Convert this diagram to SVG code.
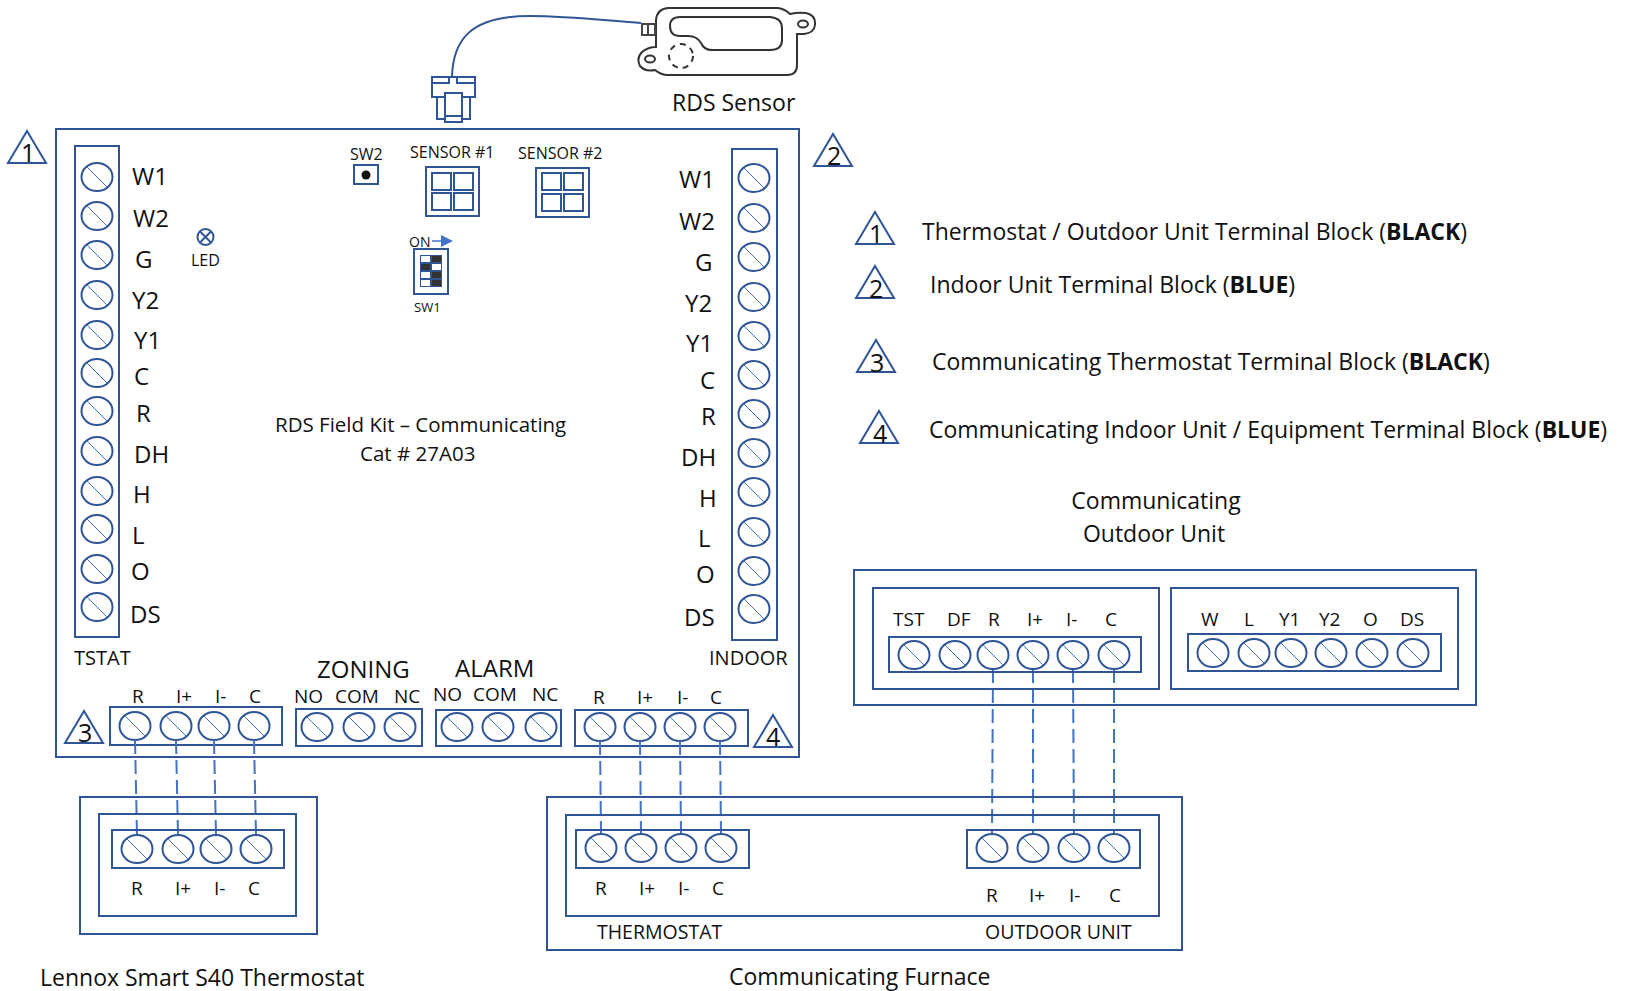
<svg xmlns="http://www.w3.org/2000/svg" width="1645" height="991" viewBox="0 0 1645 991">
<style>
.b{fill:none;stroke:#2f5597;stroke-width:2}
.f{fill:#fff;stroke:#2f5597;stroke-width:2}
.t{fill:none;stroke:#2f5597;stroke-width:2}
text{font-family:"Open Sans","Noto Sans","Liberation Sans",sans-serif;fill:#111}
.l{font-size:24px}
.m{font-size:19px}
.s{font-size:16px}
.g{font-size:23px}
.d{fill:none;stroke:#4472c4;stroke-width:2;stroke-dasharray:14 6}
.k{fill:none;stroke:#333;stroke-width:2}
</style>
<defs>
<g id="s"><ellipse rx="15.5" ry="14" fill="#fff" stroke="#2f5597" stroke-width="2"/><line x1="-10" y1="-10" x2="10" y2="10" stroke="#4472c4" stroke-width="1"/></g>
<path id="tri" d="M0 0L19 32H-19Z" fill="none" stroke="#2f5597" stroke-width="2"/>
</defs>
<rect width="1645" height="991" fill="#fff"/>
<g id="rds-sensor">
<path class="k" d="M656 20Q657 9 668 8L778 8Q785 9 790 14Q798 12 806 13Q816 15 815 25Q814 33 804 34L797 34L797 65Q797 75 787 75L668 75Q661 75 655 70Q645 72 640 66Q636 58 642 52Q648 47 656 47Z"/>
<path class="k" d="M680 17L770 17Q782 18 782 28L782 40Q782 50 770 50L712 50Q704 50 701 43Q697 36 688 36L680 36Q670 36 670 26Q670 17 680 17Z"/>
<circle cx="681" cy="56" r="12" fill="none" stroke="#333" stroke-width="2" stroke-dasharray="6 5"/>
<ellipse cx="803" cy="24" rx="5" ry="3.5" class="k"/>
<ellipse cx="650" cy="59" rx="5" ry="3.5" class="k"/>
<path fill="none" stroke="#444" stroke-width="2" d="M642 24H655V35H642ZM648 24V35"/>
<text x="672" y="111" class="g">RDS Sensor</text>
</g>
<g id="sensor-plug">
<path class="b" d="M452 77C453 40 470 16 530 16C570 16 610 21 641 23"/>
<rect class="b" x="432" y="77" width="43" height="20"/>
<path class="b" d="M432 83H449V77M475 83H457V77"/>
<rect class="b" x="437" y="97" width="33" height="22"/>
<rect class="f" x="445" y="93" width="17" height="29"/>
<line class="b" x1="445" y1="116" x2="462" y2="116"/>
</g>
<g id="board">
<rect class="b" x="56" y="129" width="743" height="628"/>
<text x="275" y="432" font-size="20.5">RDS Field Kit – Communicating</text>
<text x="360" y="461" font-size="20.5">Cat # 27A03</text>
</g>
<g id="tstat-block">
<rect class="b" x="75" y="146" width="44" height="491"/>
<use href="#s" x="97" y="177"/><use href="#s" x="97" y="216"/><use href="#s" x="97" y="255"/><use href="#s" x="97" y="295"/><use href="#s" x="97" y="335"/><use href="#s" x="97" y="373"/><use href="#s" x="97" y="411"/><use href="#s" x="97" y="451"/><use href="#s" x="97" y="491"/><use href="#s" x="97" y="529"/><use href="#s" x="97" y="569"/><use href="#s" x="97" y="607"/>
<text class="l" x="132" y="185">W1</text><text class="l" x="133" y="227">W2</text><text class="l" x="135" y="268">G</text><text class="l" x="132" y="309">Y2</text><text class="l" x="134" y="349">Y1</text><text class="l" x="134" y="385">C</text><text class="l" x="136" y="422">R</text><text class="l" x="134" y="463">DH</text><text class="l" x="133" y="503">H</text><text class="l" x="132" y="544">L</text><text class="l" x="131" y="580">O</text><text class="l" x="130" y="623">DS</text>
<text x="74" y="665" font-size="20">TSTAT</text>
</g>
<g id="indoor-block">
<rect class="b" x="732" y="149" width="45" height="491"/>
<use href="#s" x="754" y="178"/><use href="#s" x="754" y="218"/><use href="#s" x="754" y="257"/><use href="#s" x="754" y="297"/><use href="#s" x="754" y="336"/><use href="#s" x="754" y="375"/><use href="#s" x="754" y="414"/><use href="#s" x="754" y="453"/><use href="#s" x="754" y="492"/><use href="#s" x="754" y="532"/><use href="#s" x="754" y="571"/><use href="#s" x="754" y="609"/>
<text class="l" x="679" y="188">W1</text><text class="l" x="679" y="230">W2</text><text class="l" x="695" y="271">G</text><text class="l" x="685" y="312">Y2</text><text class="l" x="686" y="352">Y1</text><text class="l" x="700" y="389">C</text><text class="l" x="701" y="425">R</text><text class="l" x="681" y="466">DH</text><text class="l" x="699" y="507">H</text><text class="l" x="698" y="547">L</text><text class="l" x="696" y="583">O</text><text class="l" x="684" y="626">DS</text>
<text x="709" y="665" font-size="20">INDOOR</text>
</g>
<g id="led">
<circle class="b" cx="205.5" cy="237" r="8"/><path class="b" d="M200 231.500L211 242.500M211 231.500L200 242.500" stroke-width="1.500"/>
<text class="s" x="191" y="266">LED</text>
</g>
<g id="sw2">
<text class="s" x="350" y="160">SW2</text>
<rect class="b" x="354" y="165" width="24" height="19"/><circle cx="366" cy="175" r="4.500" fill="#111"/>
</g>
<g id="sensor1">
<text class="s" x="410" y="158">SENSOR #1</text>
<rect class="b" x="426" y="167" width="53" height="49"/>
<rect class="b" x="432" y="173" width="19" height="17"/><rect class="b" x="454" y="173" width="19" height="17"/><rect class="b" x="432" y="193" width="19" height="17"/><rect class="b" x="454" y="193" width="19" height="17"/>
</g>
<g id="sensor2">
<text class="s" x="518" y="159">SENSOR #2</text>
<rect class="b" x="536" y="168" width="53" height="49"/>
<rect class="b" x="542" y="173" width="19" height="17"/><rect class="b" x="564" y="173" width="19" height="17"/><rect class="b" x="542" y="194" width="19" height="17"/><rect class="b" x="564" y="194" width="19" height="17"/>
</g>
<g id="sw1">
<text x="409" y="247" font-size="14">ON</text>
<line x1="432" y1="241" x2="444" y2="241" stroke="#4472c4" stroke-width="1.500"/><polygon points="441,235 453,241 441,247" fill="#4472c4"/>
<rect class="b" x="414" y="249" width="34" height="45"/>
<rect x="420" y="255" width="22" height="32" fill="#2f5597"/>
<rect x="421" y="256" width="9" height="6" fill="#fff"/><rect x="432" y="256" width="9" height="6" fill="#333"/>
<rect x="421" y="264" width="9" height="6" fill="#333"/><rect x="432" y="264" width="9" height="6" fill="#fff"/>
<rect x="421" y="272" width="9" height="6" fill="#fff"/><rect x="432" y="272" width="9" height="6" fill="#333"/>
<rect x="421" y="280" width="9" height="6" fill="#fff"/><rect x="432" y="280" width="9" height="6" fill="#333"/>
<text x="414" y="312" font-size="13">SW1</text>
</g>
<g id="tri1"><use href="#tri" x="27" y="131"/><text x="21" y="162" font-size="25">1</text></g>
<g id="tri2"><use href="#tri" x="833" y="134"/><text x="827" y="165" font-size="25">2</text></g>
<g id="tri3"><use href="#tri" x="84" y="711"/><text x="78" y="742" font-size="25">3</text></g>
<g id="tri4"><use href="#tri" x="773" y="715"/><text x="766" y="746" font-size="25">4</text></g>
<g id="legend">
<use href="#tri" x="875" y="212"/><text x="869" y="243" font-size="25">1</text>
<text x="922" y="240" font-size="23">Thermostat / Outdoor Unit Terminal Block (<tspan font-weight="700">BLACK</tspan>)</text>
<use href="#tri" x="875" y="266"/><text x="869" y="298" font-size="25">2</text>
<text x="930" y="293" font-size="23">Indoor Unit Terminal Block (<tspan font-weight="700">BLUE</tspan>)</text>
<use href="#tri" x="876" y="340"/><text x="870" y="372" font-size="25">3</text>
<text x="932" y="370" font-size="23">Communicating Thermostat Terminal Block (<tspan font-weight="700">BLACK</tspan>)</text>
<use href="#tri" x="879" y="411"/><text x="873" y="443" font-size="25">4</text>
<text x="929" y="438" font-size="23">Communicating Indoor Unit / Equipment Terminal Block (<tspan font-weight="700">BLUE</tspan>)</text>
</g>
<g id="comm-tstat-block">
<rect class="b" x="110" y="707" width="172" height="38"/>
<use href="#s" x="135" y="726"/><use href="#s" x="176" y="726"/><use href="#s" x="214" y="726"/><use href="#s" x="254" y="726"/>
<text class="m" x="132" y="703">R</text><text class="m" x="176" y="703">I+</text><text class="m" x="215" y="703">I-</text><text class="m" x="249" y="703">C</text>
</g>
<g id="zoning">
<text class="l" x="317" y="678">ZONING</text>
<rect class="b" x="296" y="709" width="126" height="37"/>
<use href="#s" x="317" y="727"/><use href="#s" x="359" y="727"/><use href="#s" x="400" y="727"/>
<text class="m" x="294" y="703">NO</text><text class="m" x="335" y="703">COM</text><text class="m" x="394" y="703">NC</text>
</g>
<g id="alarm">
<text class="l" x="455" y="677">ALARM</text>
<rect class="b" x="436" y="710" width="125" height="36"/>
<use href="#s" x="457" y="727"/><use href="#s" x="498" y="727"/><use href="#s" x="541" y="727"/>
<text class="m" x="433" y="701">NO</text><text class="m" x="473" y="701">COM</text><text class="m" x="532" y="701">NC</text>
</g>
<g id="comm-indoor-block">
<rect class="b" x="575" y="710" width="173" height="36"/>
<use href="#s" x="600" y="727"/><use href="#s" x="640" y="727"/><use href="#s" x="680" y="727"/><use href="#s" x="720" y="727"/>
<text class="m" x="593" y="704">R</text><text class="m" x="637" y="704">I+</text><text class="m" x="677" y="704">I-</text><text class="m" x="710" y="704">C</text>
</g>
<g id="connectors">
<path class="d" d="M135 740L137 835M176 740L178 835M214 740L216 835M254 740L256 835"/>
<path class="d" d="M600 741L601 834M640 741L641 834M680 741L681 834M720 741L721 834"/>
<path class="d" d="M993 669L992 834M1033 669L1033 834M1073 669L1074 834M1114 669L1114 834"/>
</g>
<g id="lennox-thermostat">
<rect class="b" x="80" y="797" width="237" height="137"/>
<rect class="b" x="99" y="814" width="197" height="102"/>
<rect class="b" x="112" y="830" width="172" height="38"/>
<use href="#s" x="137" y="849"/><use href="#s" x="178" y="849"/><use href="#s" x="216" y="849"/><use href="#s" x="256" y="849"/>
<text class="m" x="131" y="895">R</text><text class="m" x="175" y="895">I+</text><text class="m" x="214" y="895">I-</text><text class="m" x="248" y="895">C</text>
<text class="g" x="40" y="986">Lennox Smart S40 Thermostat</text>
</g>
<g id="furnace">
<rect class="b" x="547" y="797" width="635" height="153"/>
<rect class="b" x="566" y="815" width="593" height="101"/>
<rect class="b" x="576" y="830" width="173" height="38"/>
<use href="#s" x="601" y="848"/><use href="#s" x="641" y="848"/><use href="#s" x="681" y="848"/><use href="#s" x="721" y="848"/>
<text class="m" x="595" y="895">R</text><text class="m" x="639" y="895">I+</text><text class="m" x="678" y="895">I-</text><text class="m" x="712" y="895">C</text>
<rect class="b" x="967" y="830" width="173" height="38"/>
<use href="#s" x="992" y="848"/><use href="#s" x="1033" y="848"/><use href="#s" x="1074" y="848"/><use href="#s" x="1114" y="848"/>
<text class="m" x="986" y="902">R</text><text class="m" x="1029" y="902">I+</text><text class="m" x="1069" y="902">I-</text><text class="m" x="1109" y="902">C</text>
<text x="597" y="939" font-size="19.500">THERMOSTAT</text><text x="985" y="939" font-size="19.500">OUTDOOR UNIT</text>
<text class="g" x="729" y="985">Communicating Furnace</text>
</g>
<g id="outdoor-unit">
<text class="g" x="1156" y="509" text-anchor="middle">Communicating</text><text class="g" x="1154" y="542" text-anchor="middle">Outdoor Unit</text>
<rect class="b" x="854" y="570" width="622" height="135"/>
<rect class="b" x="873" y="588" width="286" height="101"/>
<rect class="b" x="889" y="637" width="252" height="35"/>
<use href="#s" x="914" y="655"/><use href="#s" x="955" y="655"/><use href="#s" x="993" y="655"/><use href="#s" x="1033" y="655"/><use href="#s" x="1073" y="655"/><use href="#s" x="1114" y="655"/>
<text class="m" x="893" y="626">TST</text><text class="m" x="947" y="626">DF</text><text class="m" x="988" y="626">R</text><text class="m" x="1027" y="626">I+</text><text class="m" x="1066" y="626">I-</text><text class="m" x="1105" y="626">C</text>
<rect class="b" x="1171" y="588" width="287" height="101"/>
<rect class="b" x="1188" y="634" width="253" height="37"/>
<use href="#s" x="1213" y="653"/><use href="#s" x="1254" y="653"/><use href="#s" x="1291" y="653"/><use href="#s" x="1331" y="653"/><use href="#s" x="1372" y="653"/><use href="#s" x="1413" y="653"/>
<text class="m" x="1201" y="626">W</text><text class="m" x="1244" y="626">L</text><text class="m" x="1279" y="626">Y1</text><text class="m" x="1319" y="626">Y2</text><text class="m" x="1363" y="626">O</text><text class="m" x="1400" y="626">DS</text>
</g>
</svg>
